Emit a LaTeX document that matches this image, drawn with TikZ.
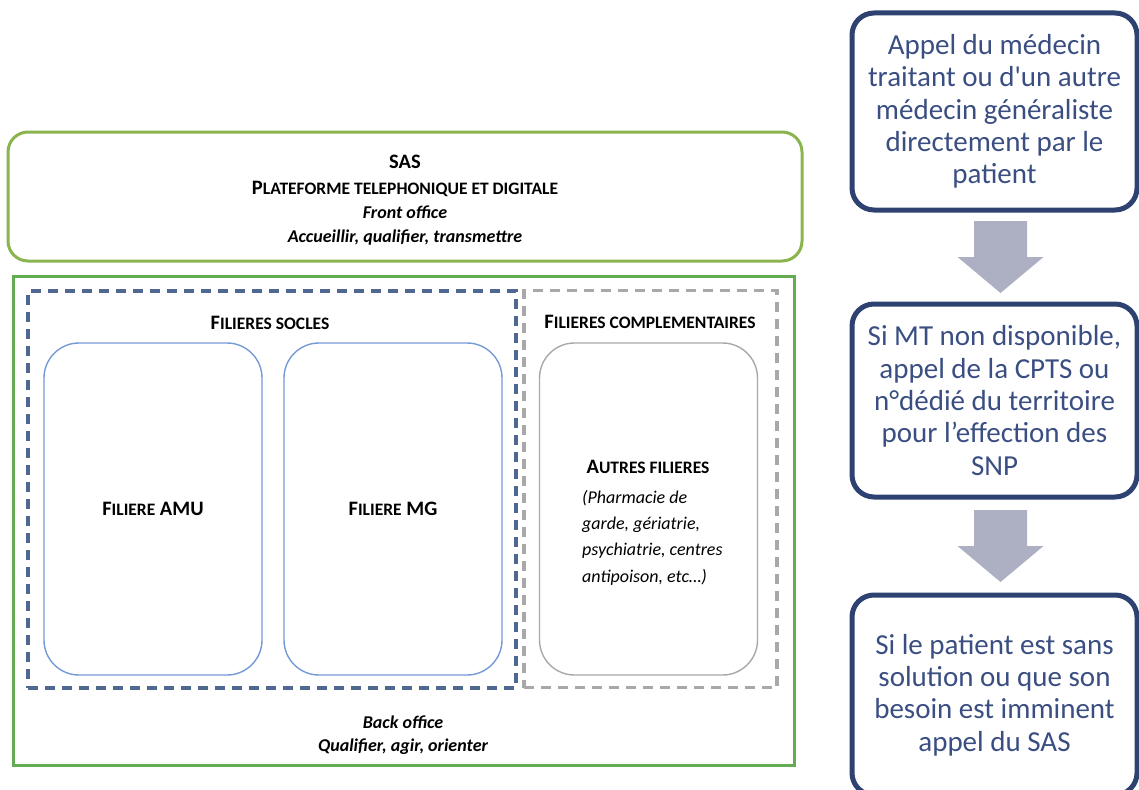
\documentclass[tikz,border=0pt]{standalone}
\usepackage{fontspec}
\setmainfont{Carlito}
\usetikzlibrary{calc}

\definecolor{sasgreen}{RGB}{137,180,78}
\definecolor{backgreen}{RGB}{100,172,82}
\definecolor{soclesblue}{RGB}{78,104,146}
\definecolor{complgrey}{RGB}{168,168,168}
\definecolor{filblue}{RGB}{116,154,214}
\definecolor{stepnavy}{RGB}{45,66,112}
\definecolor{steptext}{RGB}{58,78,130}
\definecolor{arrowgrey}{RGB}{172,176,194}

\newcommand{\smcap}[1]{{\fontsize{17.5}{20}\selectfont #1}}

\begin{document}
\begin{tikzpicture}[x=1pt, y=1pt,
		lbl/.style={font=\fontsize{20.5}{24}\selectfont\bfseries, align=center, inner sep=0pt},
		sasbox/.style={draw=sasgreen, line width=3pt, rounded corners=20pt, minimum width=794pt, minimum height=129pt},
		backbox/.style={draw=backgreen, line width=3pt, minimum width=781pt, minimum height=489pt},
		groupbox/.style={dash pattern=on 10pt off 7pt, line width=3.2pt, minimum height=397pt},
		filbox/.style={draw=filblue, line width=1.4pt, rounded corners=35pt, minimum width=218pt, minimum height=332pt},
		stepbox/.style={draw=stepnavy, line width=5pt, rounded corners=22pt, minimum width=285pt, text=steptext, align=center, font=\fontsize{29}{32.3}\selectfont},
		blockarrow/.style={fill=arrowgrey}]
		\useasboundingbox (0,0) rectangle (1139,-789);
		\clip (0,0) rectangle (1139,-789);

		\node[sasbox] (sas) at (405,-196.5) {};
		\node[lbl] (saslbl) at (405,-200) {SAS\\[2pt]P\smcap{LATEFORME TELEPHONIQUE ET DIGITALE}\\\fontsize{18}{24.5}\selectfont\itshape Front office\\\fontsize{18}{24}\selectfont\itshape Accueillir, qualifier, transmettre};

		\node[backbox] (back) at (403.5,-520.5) {};
		\node[lbl, font=\fontsize{18}{23}\selectfont\bfseries\itshape] (backlbl) at (403,-735) {Back office\\Qualifier, agir, orienter};

		\node[groupbox, draw=soclesblue, minimum width=488pt] (socles) at (272,-489.5) {};
		\node[groupbox, draw=complgrey, minimum width=253pt] (compl) at (650.5,-489) {};
		\node[lbl] (sockeslbl) at (270,-323) {F\smcap{ILIERES SOCLES}};
		\node[lbl] (compllbl) at (650,-322) {F\smcap{ILIERES COMPLEMENTAIRES}};

		\node[filbox] (amu) at (153,-509) {};
		\node[filbox] (mg) at (393,-509) {};
		\node[filbox, draw=complgrey] (autres) at (648.5,-509) {};
		\node[lbl] (amulbl) at (amu) {F\smcap{ILIERE} AMU};
		\node[lbl] (mglbl) at (mg) {F\smcap{ILIERE} MG};
		\node[lbl] (autreslbl) at (648,-467) {A\smcap{UTRES FILIERES}};
		\node[inner sep=0pt, align=left, anchor=north west, font=\fontsize{18}{26.3}\selectfont\itshape] (autresdesc) at (582,-490) {(Pharmacie de\\garde, gériatrie,\\psychiatrie, centres\\antipoison, etc…)};

		\node[stepbox, minimum height=197pt] (step1) at (994.5,-111.5) {Appel du médecin\\traitant ou d\textquotesingle un autre\\médecin généraliste\\directement par le\\patient};
		\node[stepbox, minimum height=193pt] (step2) at (994.5,-400.5) {Si MT non disponible,\\appel de la CPTS ou\\n°dédié du territoire\\pour l’effection des\\SNP};
		\node[stepbox, minimum height=200pt] (step3) at (994.5,-695) {Si le patient est sans\\solution ou que son\\besoin est imminent\\appel du SAS};

		\foreach \from/\to in {step1/step2, step2/step3} {
			\coordinate (m) at ($(\from.south)!0.5!(\to.north)+(6,0)$);
			\fill[blockarrow] ($(m)+(-26.5,36)$) -- ($(m)+(26.5,36)$) -- ($(m)+(26.5,0)$) -- ($(m)+(43,0)$)
				-- ($(m)+(0,-36)$) -- ($(m)+(-43,0)$) -- ($(m)+(-26.5,0)$) -- cycle;
		}
\end{tikzpicture}
\end{document}
